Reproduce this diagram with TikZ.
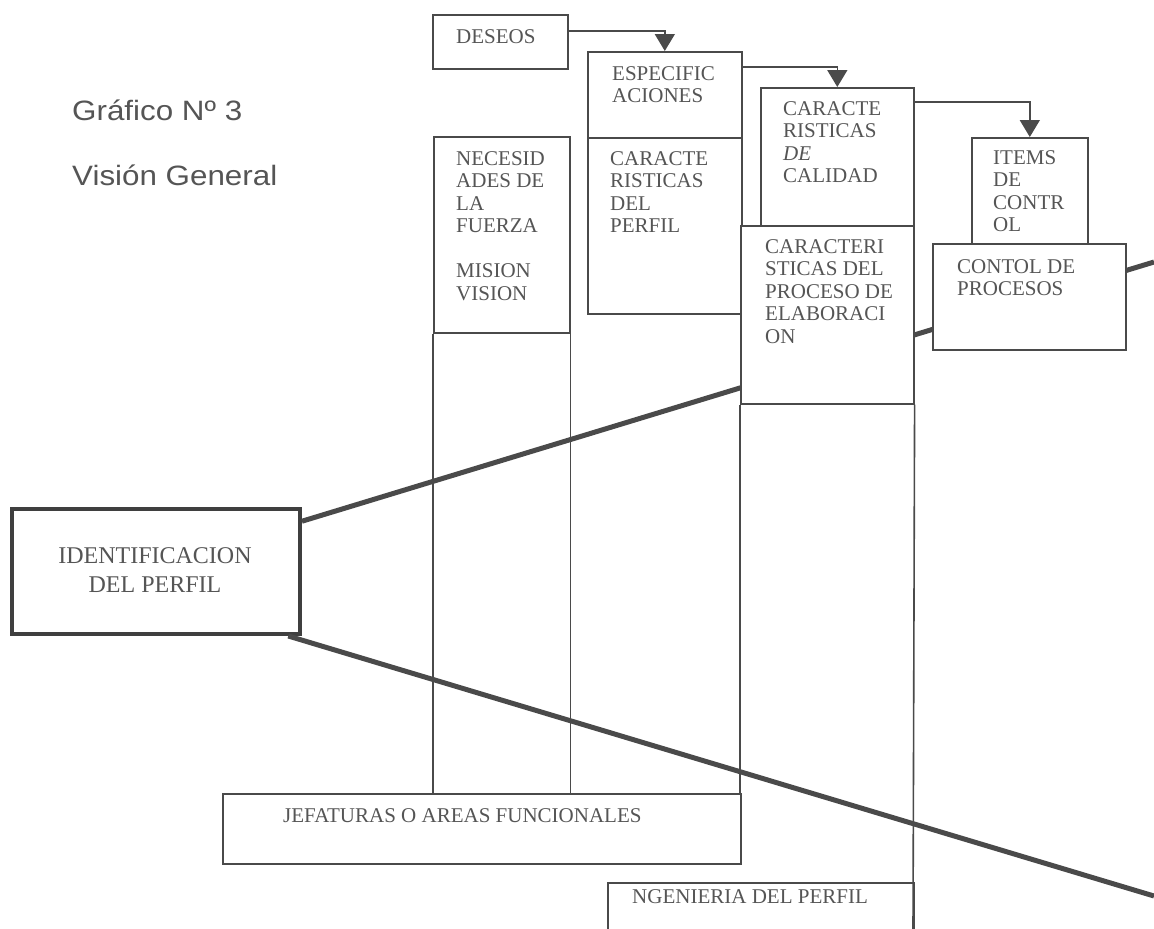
\documentclass[tikz,border=0pt]{standalone}
\usepackage{fontspec}
\setmainfont{Liberation Serif}
\newfontfamily\titlefont[FakeStretch=1.12]{Liberation Sans}
\usetikzlibrary{arrows.meta}
\definecolor{ink}{HTML}{555555}
\definecolor{rule}{HTML}{4A4A4A}
\begin{document}
\begin{tikzpicture}[x=1pt,y=-1pt,
  box/.style={draw=rule, line width=1.6pt, fill=white, inner sep=0pt, anchor=north west},
  txt/.style={text=ink, anchor=north west, align=left, inner sep=0pt, font=\fontsize{21}{22.5}\selectfont},
  flow/.style={draw=rule, line width=1.6pt, -{Triangle[width=20pt,length=17pt]}},
  heavy/.style={draw=rule, line width=5pt}]
\fill[white] (0,0) rectangle (1154,929);
\useasboundingbox (0,0) rectangle (1154,929);
% titulo
\node[anchor=base west, inner sep=0pt, text=ink, font=\titlefont\fontsize{28}{30}\selectfont] (grafico) at (72,120) {Gráfico Nº 3};
\node[anchor=base west, inner sep=0pt, text=ink, font=\titlefont\fontsize{28}{30}\selectfont] (vision) at (72,185) {Visión General};
% identificacion y lineas gruesas
\node[box, draw=rule!85!black, line width=4pt, minimum width=288, minimum height=125] (ident) at (10,507) {};
\node[text=ink, align=center, inner sep=0pt, font=\fontsize{24}{29}\selectfont] (ident-t) at (155,570) {IDENTIFICACION\\DEL PERFIL};
\coordinate (alto) at (1154,262);
\coordinate (bajo) at (1154,896);
\draw[heavy] (ident.19) -- (alto);
\draw[heavy] (ident.-26) -- (bajo);
% columnas
\node[box, minimum width=136, minimum height=196] (necesid) at (433,136) {};
\node[box, minimum width=154, minimum height=86] (espec) at (587,51) {};
\node[box, minimum width=154, minimum height=176] (perfil) at (587,137) {};
\node[box, minimum width=153, minimum height=138] (calidad) at (760,87) {};
\node[box, minimum width=173, minimum height=178] (proceso) at (740,225) {};
\node[box, minimum width=116, minimum height=106] (items) at (971,137) {};
\node[box, minimum width=193, minimum height=106] (contol) at (932,243) {};
\node[box, minimum width=135, minimum height=54] (deseos) at (432,14) {};
\node[box, minimum width=518, minimum height=70] (jefaturas) at (222,793) {};
\node[box, minimum width=306, minimum height=70] (ingenieria) at (607,882) {};
\coordinate (pie) at (913,929);
\draw[rule, line width=1.6pt] (necesid.south west) -- (necesid.south west |- jefaturas.north);
\draw[rule, line width=1.6pt] (necesid.south east) -- (necesid.south east |- jefaturas.north);
\draw[rule, line width=1.6pt] (proceso.south west) -- (proceso.south west |- jefaturas.north);
\draw[rule, line width=1.6pt] (proceso.south east) -- (pie);
% flechas
\draw[flow] ([yshift=11]deseos.east) -| (espec.north);
\draw[flow] ([yshift=28]espec.east) -| (calidad.north);
\draw[flow] ([yshift=55]calidad.east) -| (items.north);
% textos
\node[txt, anchor=base west] (deseos-t) at (456,43) {DESEOS};
\node[txt] (espec-t) at (612,66) {ESPECIFIC\\ACIONES};
\node[txt] (perfil-t) at (610,151) {CARACTE\\RISTICAS\\DEL\\PERFIL};
\node[txt] (necesid-t) at (456,151) {NECESID\\ADES DE\\LA\\FUERZA\\[22.5pt]MISION\\VISION};
\node[txt] (calidad-t) at (783,101) {CARACTE\\RISTICAS\\\textit{DE}\\CALIDAD};
\node[txt] (proceso-t) at (765,239) {CARACTERI\\STICAS DEL\\PROCESO DE\\ELABORACI\\ON};
\node[txt] (items-t) at (993,150) {ITEMS\\DE\\CONTR\\OL};
\node[txt] (contol-t) at (957,259) {CONTOL DE\\PROCESOS};
\node[txt, anchor=base west] (jefaturas-t) at (283,822) {JEFATURAS O AREAS FUNCIONALES};
\node[txt, anchor=base west] (ingenieria-t) at (632,903) {NGENIERIA DEL PERFIL};
\end{tikzpicture}
\end{document}
